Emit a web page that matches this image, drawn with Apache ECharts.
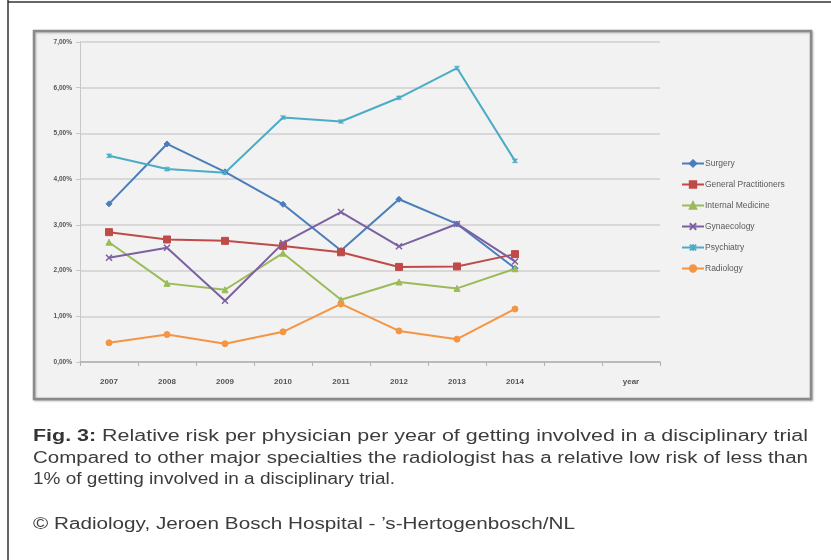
<!DOCTYPE html>
<html>
<head>
<meta charset="utf-8">
<script src="https://cdn.jsdelivr.net/npm/echarts@6/dist/echarts.min.js"></script>
<style>
html,body{margin:0;padding:0;background:#fff;}
#chart{width:831px;height:560px;}
</style>
</head>
<body>
<div id="chart"></div>
<script>
const years = ['2007','2008','2009','2010','2011','2012','2013','2014','','year'];
const yTickLabels = ['0,00%','1,00%','2,00%','3,00%','4,00%','5,00%','6,00%','7,00%'];
const surgery   = [3.46, 4.77, 4.16, 3.45, 2.44, 3.56, 3.02, 2.05];
const gp        = [2.84, 2.68, 2.65, 2.54, 2.40, 2.08, 2.09, 2.36];
const internal  = [2.62, 1.72, 1.58, 2.38, 1.36, 1.75, 1.61, 2.04];
const gyn       = [2.28, 2.50, 1.34, 2.60, 3.28, 2.53, 3.02, 2.20];
const psych     = [4.51, 4.22, 4.14, 5.35, 5.26, 5.78, 6.43, 4.40];
const radiology = [0.42, 0.60, 0.40, 0.66, 1.27, 0.68, 0.50, 1.16];
const seriesNames = ['Surgery','General Practitioners','Internal Medicine','Gynaecology','Psychiatry','Radiology'];
const captionLines = [
  ['Fig. 3:', ' Relative risk per physician per year of getting involved in a disciplinary trial'],
  ['', 'Compared to other major specialties the radiologist has a relative low risk of less than'],
  ['', '1% of getting involved in a disciplinary trial.'],
  ['', '\u00A9 Radiology, Jeroen Bosch Hospital - \u2019s-Hertogenbosch/NL']
];

const chart = echarts.init(document.getElementById('chart'), null, {renderer:'canvas'});

const FONT = "'Liberation Sans', Arial, Helvetica, sans-serif";
const measureCtx = document.createElement('canvas').getContext('2d');
function measure(bold, normal, size){
  measureCtx.font = 'bold ' + size + 'px ' + FONT;
  let w = bold ? measureCtx.measureText(bold).width : 0;
  measureCtx.font = size + 'px ' + FONT;
  w += measureCtx.measureText(normal).width;
  return w;
}
const capTargets = [775, 775, 362, 542];
const capY = [437, 459, 480, 525];
const capSize = 16;
const captionGraphics = captionLines.map((ln, i) => {
  const w = measure(ln[0], ln[1], capSize);
  const s = capTargets[i] / w;
  return {
    type: 'text', x: 33, y: capY[i], scaleX: s, z: 100,
    style: {
      text: (ln[0] ? '{b|' + ln[0] + '}' : '') + '{n|' + ln[1] + '}',
      rich: {
        b: {fontFamily: FONT, fontSize: capSize, fontWeight: 'bold', fill: '#333'},
        n: {fontFamily: FONT, fontSize: capSize, fill: '#3c3c3c'}
      },
      verticalAlign: 'middle', align: 'left'
    }
  };
});

const crossPath = 'path://M0,0L10,10M10,0L0,10';
const starPath = 'path://M0,0L10,10M10,0L0,10M5,-1L5,11';

function mk(name, data, color, symbol, size, extra){
  return Object.assign({
    name: name, type: 'line', data: data, symbol: symbol, symbolSize: size,
    lineStyle: {color: color, width: 2},
    itemStyle: {color: color, borderColor: color, borderWidth: 1},
    emphasis: {disabled: true},
    z: 5
  }, extra || {});
}

const option = {
  backgroundColor: '#ffffff',
  animation: false,
  graphic: [
    {type:'line', shape:{x1:8, y1:0, x2:8, y2:560}, style:{stroke:'#333', lineWidth:1.5}, z:-1},
    {type:'line', shape:{x1:8, y1:2, x2:831, y2:2}, style:{stroke:'#333', lineWidth:1.5}, z:-1},
    {type:'rect', shape:{x:34, y:31, width:777, height:368}, style:{fill:'#f2f2f2', stroke:'#8a8a8a', lineWidth:2.5, shadowBlur:2, shadowColor:'rgba(0,0,0,0.25)', shadowOffsetX:1, shadowOffsetY:1}, z:-10},
    ...captionGraphics
  ],
  grid: {left: 80, top: 42, width: 580, height: 320, containLabel: false},
  legend: {
    orient: 'vertical', left: 676, top: 154,
    itemWidth: 22, itemHeight: 8, itemGap: 12,
    textStyle: {fontFamily: FONT, fontSize: 8.5, color: '#595959', padding:[0,0,0,-4]},
    data: seriesNames
  },
  xAxis: {
    type: 'category', data: years, boundaryGap: true,
    axisLine: {lineStyle: {color: '#b0b0b0', width: 1.5}},
    axisTick: {show: true, length: 4, inside: false, lineStyle: {color: '#b0b0b0'}},
    axisLabel: {fontFamily: FONT, fontSize: 8, color: '#555', margin: 16, interval: 0, fontWeight: 'bold'},
    splitLine: {show: false}
  },
  yAxis: {
    type: 'value', min: 0, max: 7, interval: 1,
    axisLine: {show: true, lineStyle: {color: '#c8c8c8', width: 1}},
    axisTick: {show: true, length: 4, lineStyle: {color: '#c8c8c8'}},
    axisLabel: {fontFamily: FONT, fontSize: 6.5, color: '#555', margin: 8, fontWeight: 'bold',
      formatter: (v) => yTickLabels[Math.round(v)]},
    splitLine: {lineStyle: {color: '#cfcfcf', width: 1.5}}
  },
  series: [
    mk('Surgery', surgery, '#4a7ebb', 'diamond', 6),
    mk('General Practitioners', gp, '#be4b48', 'rect', 7),
    mk('Internal Medicine', internal, '#9bbb59', 'triangle', 6),
    mk('Gynaecology', gyn, '#7d60a0', crossPath, 6, {itemStyle:{color:'#7d60a0', borderColor:'#7d60a0', borderWidth:1.5}}),
    mk('Psychiatry', psych, '#4bacc6', starPath, 5, {itemStyle:{color:'#4bacc6', borderColor:'#4bacc6', borderWidth:1.2}}),
    mk('Radiology', radiology, '#f59443', 'circle', 6)
  ]
};
chart.setOption(option);
</script>
</body>
</html>
